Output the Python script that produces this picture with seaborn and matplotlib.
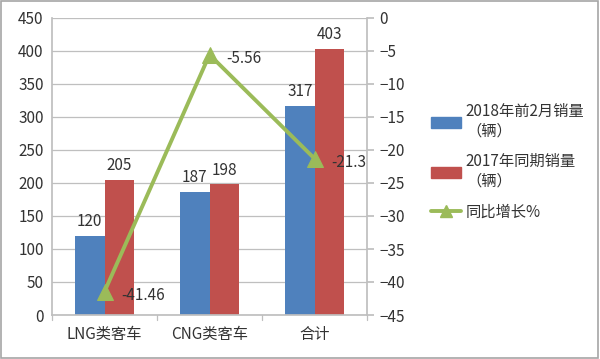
import matplotlib
matplotlib.use("Agg")
import matplotlib.pyplot as plt
import seaborn as sns
import pandas as pd
from matplotlib.patches import Patch
from matplotlib.lines import Line2D

categories = ["LNG类客车", "CNG类客车", "合计"]
sales_2018 = [120, 187, 317]
sales_2017 = [205, 198, 403]
growth = [-41.46, -5.56, -21.3]
series_names = ["2018年前2月销量\n（辆）", "2017年同期销量\n（辆）", "同比增长%"]
left_ticks = list(range(0, 451, 50))
right_ticks = list(range(-45, 1, 5))

sns.set_theme(style="white")
plt.rcParams['font.family'] = ['Noto Sans CJK SC', 'DejaVu Sans']

blue, red, green = "#4F81BD", "#C0504D", "#9BBB59"

df = pd.DataFrame({
    "cat": categories * 2,
    "val": sales_2018 + sales_2017,
    "series": [series_names[0]] * 3 + [series_names[1]] * 3,
})

fig = plt.figure(figsize=(6, 3.59), dpi=100)
fig.patch.set_facecolor("white")
ax = fig.add_axes([52/600, 1-315/359, (367-52)/600, (315-18)/359])
sns.barplot(data=df, x="cat", y="val", hue="series", palette=[blue, red],
            width=0.56, saturation=1, ax=ax, legend=False, linewidth=0)
ax.set_ylim(0, 450)
ax.set_yticks(left_ticks)
ax.set_xlabel("")
ax.set_ylabel("")
ax.yaxis.grid(True, color="#BFBFBF", linewidth=0.9)
ax.set_axisbelow(True)
for s in ["top", "right"]:
    ax.spines[s].set_visible(False)
for s in ["left", "bottom"]:
    ax.spines[s].set_color("#BFBFBF")
ax.tick_params(axis="y", labelsize=11, colors="#333333", length=0, pad=6)
ax.tick_params(axis="x", labelsize=11, colors="#333333", length=0, pad=8)
ax.set_xticks([0, 1, 2])
ax.set_xticklabels(categories)
for c in ax.containers:
    ax.bar_label(c, labels=[f"{v:g}" for v in c.datavalues], padding=4,
                 fontsize=11, color="#333333")
for xb in [-0.5, 0.5, 1.5, 2.5]:
    ax.plot([xb, xb], [0, -7], color="#BFBFBF", lw=0.9, clip_on=False)
ax.set_xlim(-0.5, 2.5)

ax2 = ax.twinx()
sns.lineplot(x=[0, 1, 2], y=growth, ax=ax2, color=green, lw=2.8,
             marker="^", markersize=11, markeredgecolor=green, legend=False)
ax2.set_ylim(-45, 0)
ax2.set_yticks(right_ticks)
ax2.set_xlim(-0.5, 2.5)
for s in ["top", "left", "bottom"]:
    ax2.spines[s].set_visible(False)
ax2.spines["right"].set_color("#BFBFBF")
ax2.tick_params(axis="y", labelsize=11, colors="#333333", length=5,
                color="#BFBFBF", pad=4)
for i, g in enumerate(growth):
    ax2.annotate(f"{g:g}", (i, g), xytext=(12, -3), textcoords="offset points",
                 fontsize=11, color="#333333", va="center", ha="left")

handles = [Patch(color=blue), Patch(color=red),
           Line2D([0], [0], color=green, lw=2.8, marker="^", markersize=8)]
fig.legend(handles, series_names, loc="center left",
           bbox_to_anchor=(0.695, 0.55), frameon=False, fontsize=11,
           handlelength=2.0, labelspacing=0.9, handletextpad=0.3,
           labelcolor="#333333")

border = plt.Rectangle((0.002, 0.003), 0.995, 0.993, transform=fig.transFigure,
                       fill=False, edgecolor="#A6A6A6", lw=1.2)
fig.add_artist(border)

fig.savefig("out.png", dpi=100, facecolor="white")
